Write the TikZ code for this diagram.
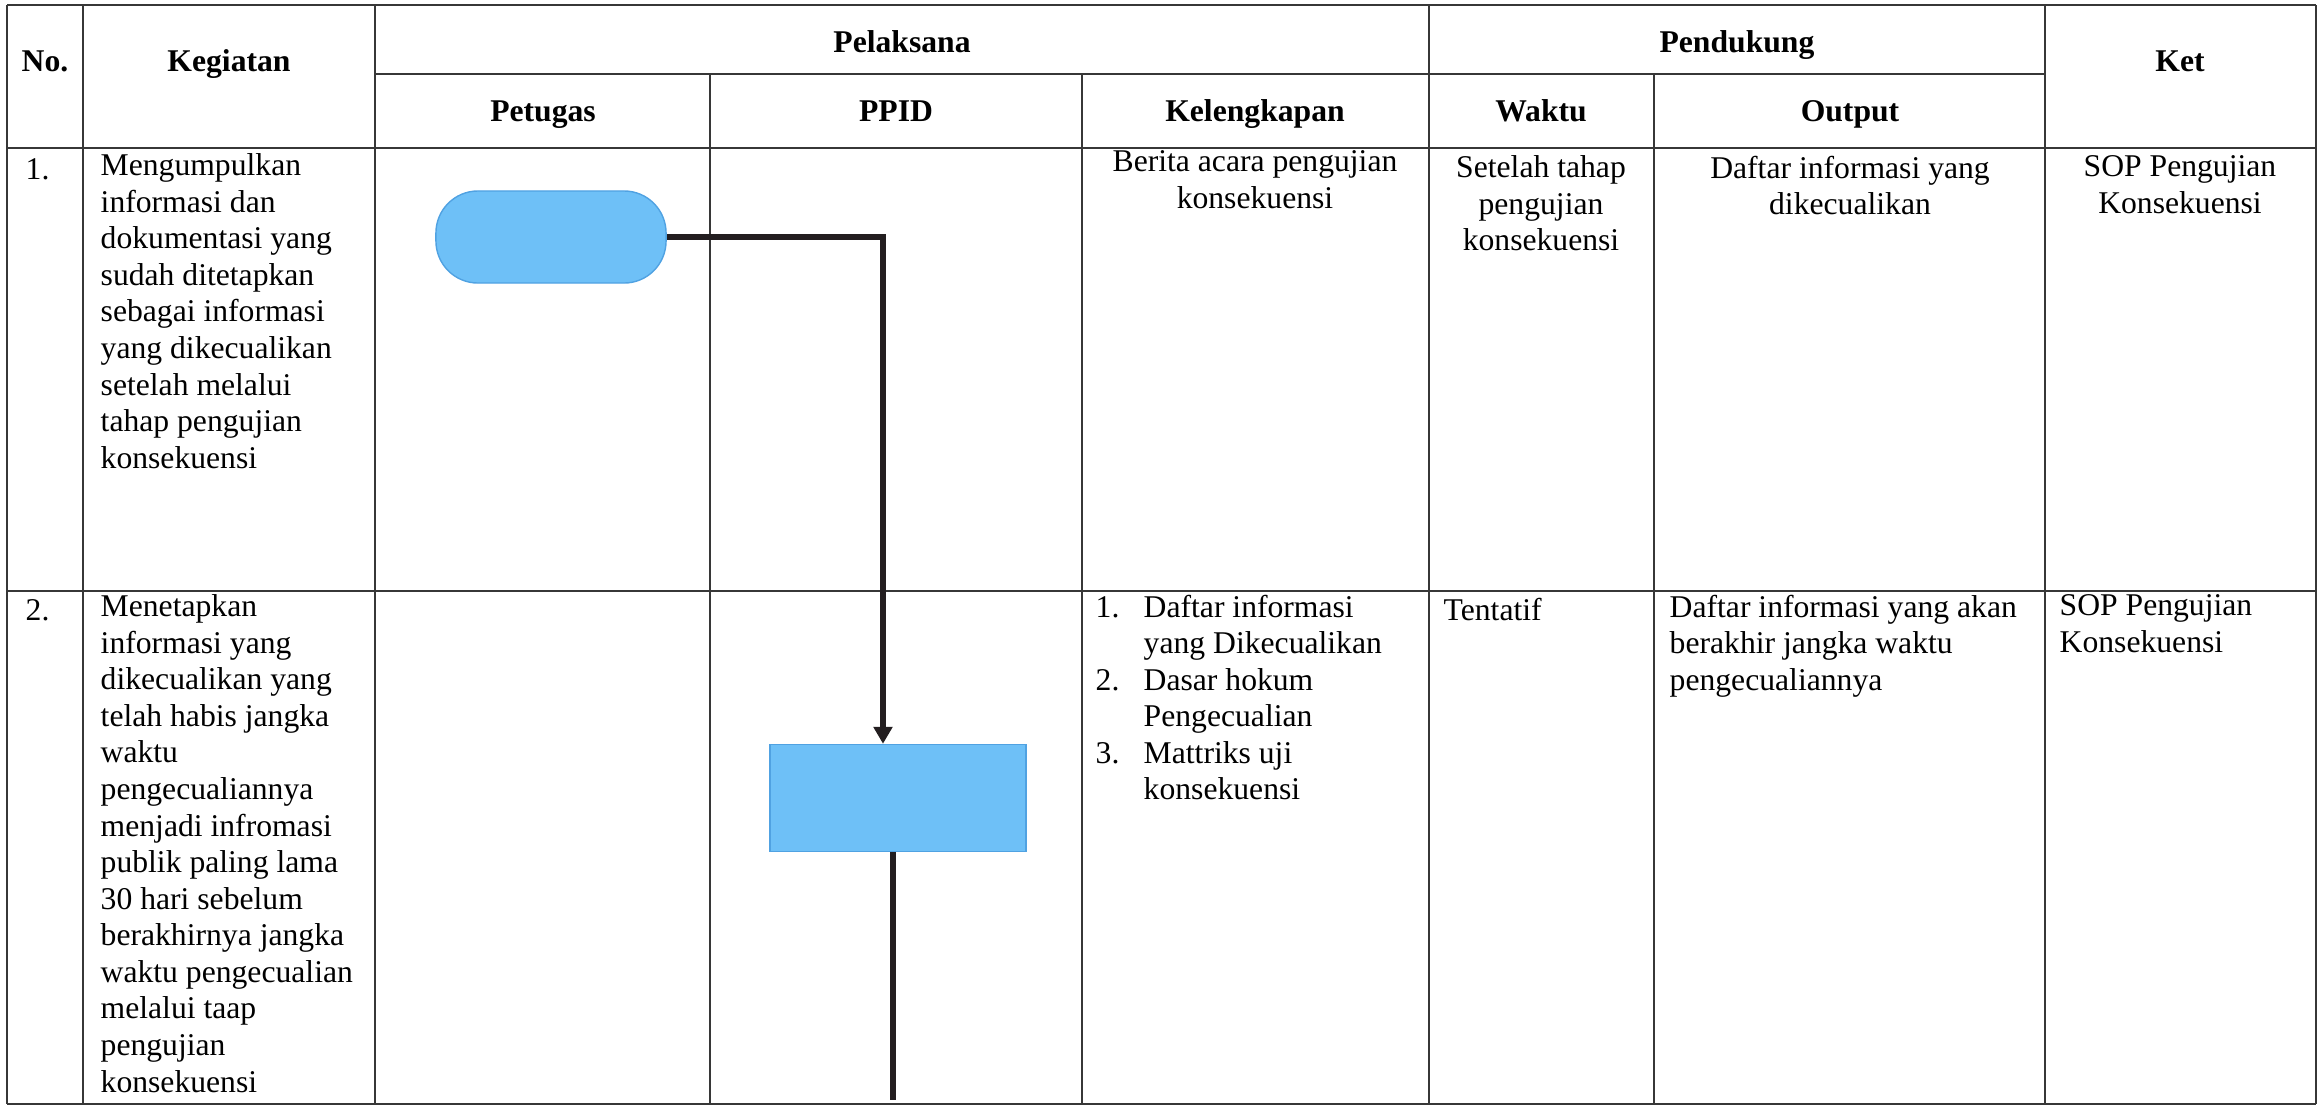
\documentclass[tikz,border=0pt]{standalone}
\usepackage{fontspec}
\setmainfont{Liberation Serif}
\usepackage{tikz}
\usetikzlibrary{arrows.meta,positioning,shapes}
\definecolor{sopblue}{RGB}{110,192,247}
\definecolor{sopedge}{RGB}{80,162,226}
\definecolor{sopline}{RGB}{55,55,55}
\definecolor{sopflow}{RGB}{35,30,32}
\tikzstyle{tabline} = [line width=0.7pt, color=sopline]
\tikzstyle{flow} = [line width=1.7pt, color=sopflow]
\tikzstyle{arrow} = [flow, -{Triangle[length=4.8pt,width=5.2pt]}]
\tikzstyle{hdr} = [font=\fontsize{9}{10.4}\selectfont\bfseries, inner sep=0pt, anchor=base]
\tikzstyle{txt} = [font=\fontsize{9}{10.4}\selectfont, inner sep=0pt, anchor=north west, align=left, execute at begin node=\strut]
\tikzstyle{ctxt} = [txt, anchor=north, align=center]
\tikzstyle{terminal} = [draw=sopedge, fill=sopblue, thin, rounded corners=0.42cm, minimum width=2.3cm, minimum height=0.92cm]
\tikzstyle{process} = [draw=sopedge, fill=sopblue, thin, minimum width=2.56cm, minimum height=1.07cm]
\newcommand{\kitem}[1]{\makebox[0.48cm][l]{#1}}

\begin{document}
\begin{tikzpicture}[x=0.01cm, y=-0.01cm]
\useasboundingbox (0,0) rectangle (2320,1105);

% Table lines
\foreach \x in {7,83,375,1429,2045,2316} {
    \draw[tabline] (\x,5) -- (\x,1104);
}
\foreach \x in {710,1082,1654} {
    \draw[tabline] (\x,74) -- (\x,1104);
}
\foreach \y in {5,148,591,1104} {
    \draw[tabline] (7,\y) -- (2316,\y);
}
\draw[tabline] (375,74) -- (2045,74);

% Header
\node[hdr] (hno) at (45,71) {No.};
\node[hdr] (hkeg) at (229,71) {Kegiatan};
\node[hdr] (hpel) at (902,52) {Pelaksana};
\node[hdr] (hpen) at (1737,52) {Pendukung};
\node[hdr] (hket) at (2180,71) {Ket};
\foreach \n/\x/\t in {hpet/543/Petugas, hppid/896/PPID, hkel/1255/Kelengkapan, hwak/1541/Waktu, hout/1850/Output} {
    \node[hdr] (\n) at (\x,121) {\t};
}

% Row 1
\node[txt] (no1) at (25,153) {1.};
\node[txt] (keg1) at (100,153) {Mengumpulkan\\informasi dan\\dokumentasi yang\\sudah ditetapkan\\sebagai informasi\\yang dikecualikan\\setelah melalui\\tahap pengujian\\konsekuensi};
\node[ctxt] (kel1) at (1255,150) {Berita acara pengujian\\konsekuensi};
\node[ctxt] (wak1) at (1541,155) {Setelah tahap\\pengujian\\konsekuensi};
\node[ctxt] (out1) at (1850,155) {Daftar informasi yang\\dikecualikan};
\node[ctxt] (ket1) at (2180,155) {SOP Pengujian\\Konsekuensi};

% Row 2
\node[txt] (no2) at (25,594) {2.};
\node[txt] (keg2) at (100,594) {Menetapkan\\informasi yang\\dikecualikan yang\\telah habis jangka\\waktu\\pengecualiannya\\menjadi infromasi\\publik paling lama\\30 hari sebelum\\berakhirnya jangka\\waktu pengecualian\\melalui taap\\pengujian\\konsekuensi};
\node[txt] (kel2) at (1095,594) {\kitem{1.}Daftar informasi\\\kitem{}yang Dikecualikan\\\kitem{2.}Dasar hokum\\\kitem{}Pengecualian\\\kitem{3.}Mattriks uji\\\kitem{}konsekuensi};
\node[txt] (wak2) at (1443,594) {Tentatif};
\node[txt] (out2) at (1669,594) {Daftar informasi yang akan\\berakhir jangka waktu\\pengecualiannya};
\node[txt] (ket2) at (2059,594) {SOP Pengujian\\Konsekuensi};

% Flow
\node[terminal] (mulai) at (551,237) {};
\node[process] (tetap) at (898,798) {};
\coordinate (ujung) at (893,1100);
\draw[arrow] (mulai.east) -| ([xshift=-0.15cm]tetap.north);
\draw[flow] (tetap.south -| ujung) -- (ujung);
\end{tikzpicture}
\end{document}
